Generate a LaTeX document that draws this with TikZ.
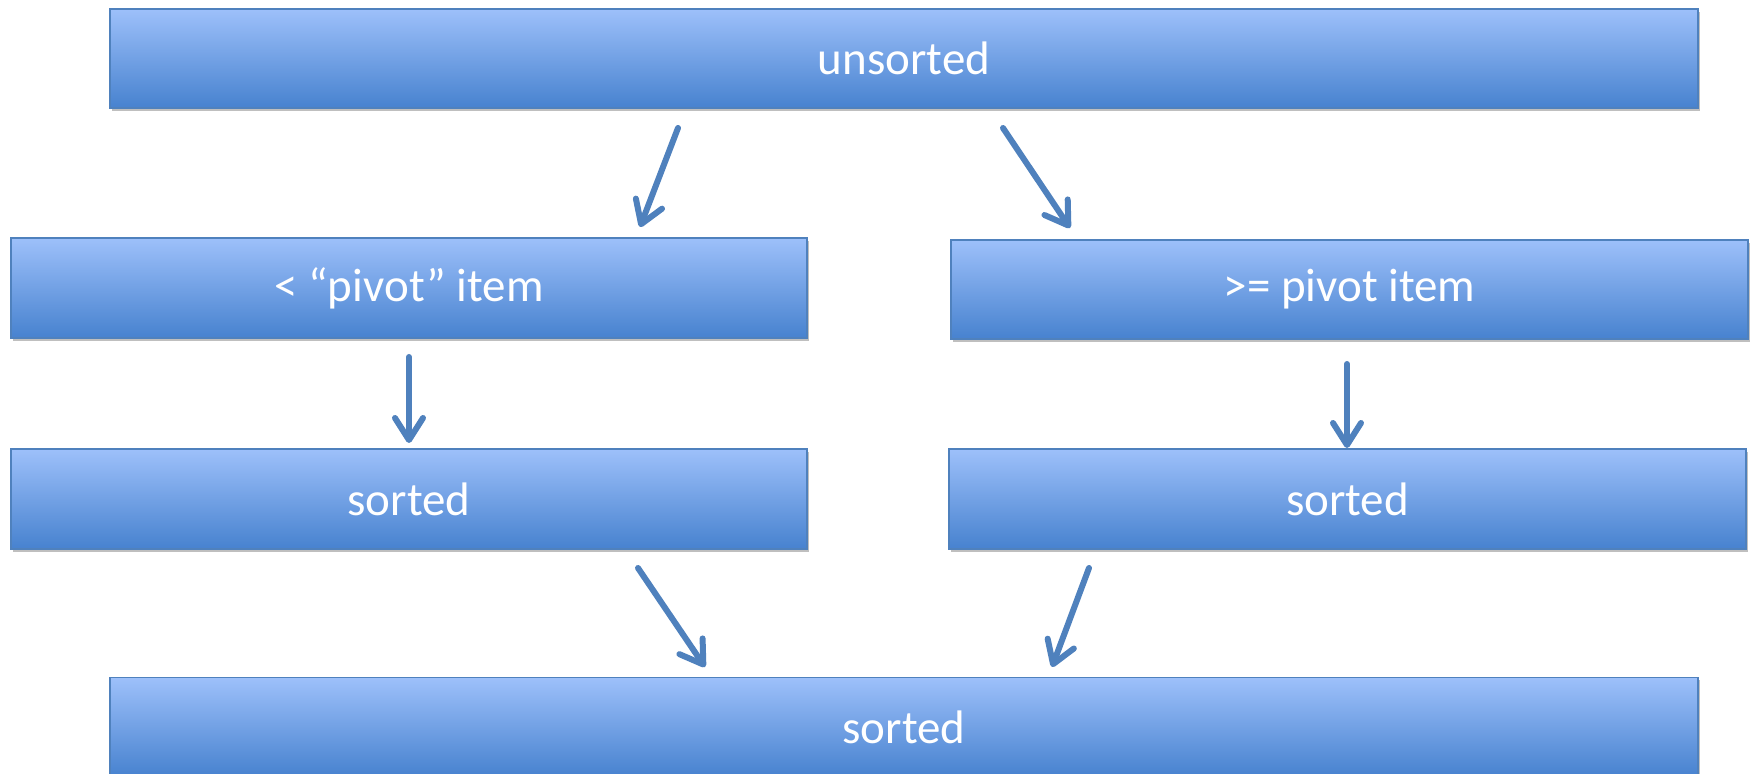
\documentclass[tikz,border=0pt]{standalone}
\usepackage{fontspec}
\setmainfont{Carlito}
\usetikzlibrary{arrows.meta,shadows}
\definecolor{boxtop}{HTML}{9DC0FA}
\definecolor{boxbot}{HTML}{4782CF}
\definecolor{boxline}{HTML}{4F81BD}
\definecolor{arrowc}{HTML}{4F81BD}
\tikzset{
  flowbox/.style={rectangle, draw=boxline, line width=0.8pt, top color=boxtop, bottom color=boxbot,
    text=white, font=\fontsize{23.5}{27}\selectfont, inner sep=0pt,
    drop shadow={shadow xshift=1pt, shadow yshift=-1.5pt, opacity=0.25, fill=black}},
  flowarrow/.style={draw=arrowc, line width=3pt, line cap=round,
    -{Straight Barb[length=11pt,width=14pt,line cap=round,line join=round]}}
}
\begin{document}
\begin{tikzpicture}[x=0.5pt,y=-0.5pt]
\useasboundingbox[fill=white] (0,0) rectangle (1752,774);
\node[flowbox, minimum width=794pt, minimum height=49.5pt] (top) at (904,58.5) {unsorted};
\node[flowbox, minimum width=398pt, minimum height=50pt] (lm) at (409,288) {< “pivot” item};
\node[flowbox, minimum width=398.5pt, minimum height=49.5pt] (rm) at (1349.5,289.5) {>= pivot item};
\node[flowbox, minimum width=398pt, minimum height=50pt] (ls) at (409,499) {sorted};
\node[flowbox, minimum width=398.5pt, minimum height=50pt] (rs) at (1347.5,499) {sorted};
\node[flowbox, minimum width=794pt, minimum height=49.5pt] (bot) at (904,727) {sorted};
\coordinate (a1s) at (678,128); \coordinate (a1e) at (640,227);
\coordinate (a2s) at (1003,128); \coordinate (a2e) at (1070,228);
\coordinate (a3s) at (409,357); \coordinate (a3e) at (409,443);
\coordinate (a4s) at (1347,364); \coordinate (a4e) at (1347,448);
\coordinate (a5s) at (638,568); \coordinate (a5e) at (705,667);
\coordinate (a6s) at (1089,568); \coordinate (a6e) at (1052,667);
\draw[flowarrow] (a1s) -- (a1e);
\draw[flowarrow] (a2s) -- (a2e);
\draw[flowarrow] (a3s) -- (a3e);
\draw[flowarrow] (a4s) -- (a4e);
\draw[flowarrow] (a5s) -- (a5e);
\draw[flowarrow] (a6s) -- (a6e);
\end{tikzpicture}
\end{document}
